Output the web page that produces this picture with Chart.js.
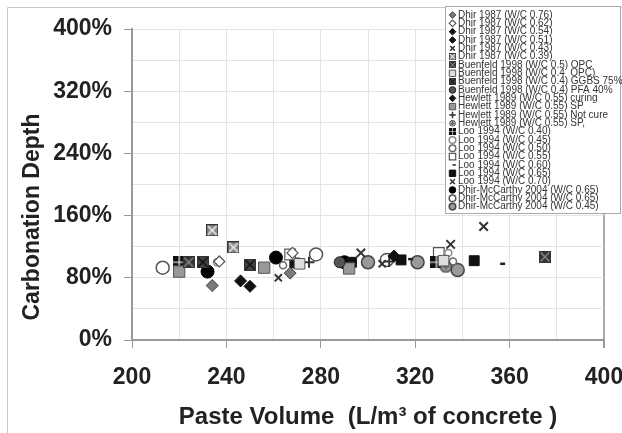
<!DOCTYPE html>
<html>
<head>
<meta charset="utf-8">
<script src="https://cdn.jsdelivr.net/npm/chart.js@4.4.0/dist/chart.umd.min.js"></script>
<style>
  html, body { margin: 0; padding: 0; background: #fff; }
  canvas { display: block; }
</style>
</head>
<body>
<canvas id="myChart" width="622" height="433"></canvas>
<script>
// series labels, paste volume (L/m3) and carbonation depth (%) per series
const seriesNames = [
  'Dhir 1987 (W/C 0.76)',
  'Dhir 1987 (W/C 0.62)',
  'Dhir 1987 (W/C 0.54)',
  'Dhir 1987 (W/C 0.51)',
  'Dhir 1987 (W/C 0.43)',
  'Dhir 1987 (W/C 0.39)',
  'Buenfeld 1998 (W/C 0.5) OPC',
  'Buenfeld 1998 (W/C 0.4  OPC)',
  'Buenfeld 1998 (W/C 0.4) GGBS 75%',
  'Buenfeld 1998 (W/C 0.4) PFA 40%',
  'Hewlett 1989 (W/C 0.55) curing',
  'Hewlett 1989 (W/C 0.55) SP',
  'Hewlett 1989 (W/C 0.55) Not cure',
  'Hewlett 1989 (W/C 0.55) SP,',
  'Loo 1994 (W/C 0.40)',
  'Loo 1994 (W/C 0.45)',
  'Loo 1994 (W/C 0.50)',
  'Loo 1994 (W/C 0.55)',
  'Loo 1994 (W/C 0.60)',
  'Loo 1994 (W/C 0.65)',
  'Loo 1994 (W/C 0.70)',
  'Dhir-McCarthy 2004 (W/C 0.65)',
  'Dhir-McCarthy 2004 (W/C 0.65)',
  'Dhir-McCarthy 2004 (W/C 0.45)'
];

const pasteVolume = [
  [234, 267], [237, 268], [246], [250], [262, 306], [234, 243],
  [224, 375], [271, 332], [230, 250], [288],
  [311], [220, 256, 292], [275, 309], [333],
  [220, 329], [236, 334], [264, 336], [267, 330], [317, 356],
  [269, 293, 314, 345], [297, 335, 349],
  [232, 261, 290], [213, 278, 308], [300, 321, 338]
];

const carbonationDepth = [
  [70, 86], [101, 112], [76], [69], [80, 98], [141, 119],
  [100, 107], [98, 102], [100, 97], [100],
  [108], [88, 93, 92], [100, 101], [94],
  [100, 100], [100, 112], [96, 101], [110, 112], [104, 98],
  [99, 100, 103, 102], [112, 123, 146],
  [88, 106, 100], [93, 110, 103], [100, 100, 90]
];

const xTicks = [200, 240, 280, 320, 360, 400];
const yTicks = [0, 80, 160, 240, 320, 400];

// little canvas markers for the patterned symbols
function patternMark(kind, fill, line, size) {
  const c = document.createElement('canvas');
  c.width = c.height = size;
  const g = c.getContext('2d');
  g.fillStyle = fill;
  g.strokeStyle = line;
  if (kind === 'hourglass') {
    g.fillRect(0, 0, size, size);
    g.lineWidth = 1.5;
    g.beginPath();
    g.moveTo(1.5, 1.5); g.lineTo(size - 1.5, size - 1.5);
    g.moveTo(size - 1.5, 1.5); g.lineTo(1.5, size - 1.5);
    g.stroke();
    g.strokeStyle = '#333';
    g.lineWidth = 1;
    g.strokeRect(0.5, 0.5, size - 1, size - 1);
  } else if (kind === 'grid') {
    g.fillRect(0, 0, size, size);
    g.lineWidth = 1.2;
    g.beginPath();
    g.moveTo(size / 2, 0); g.lineTo(size / 2, size);
    g.moveTo(0, size / 2); g.lineTo(size, size / 2);
    g.stroke();
  } else if (kind === 'starCircle') {
    g.beginPath();
    g.arc(size / 2, size / 2, size / 2 - 1, 0, Math.PI * 2);
    g.fill();
    g.lineWidth = 1.2;
    g.strokeStyle = '#333';
    g.stroke();
    g.strokeStyle = line;
    g.beginPath();
    g.moveTo(size / 2, 3); g.lineTo(size / 2, size - 3);
    g.moveTo(3, size / 2); g.lineTo(size - 3, size / 2);
    g.stroke();
  }
  return c;
}

const markerStyles = [
  { style: 'rectRot', r: 6, bg: '#7a7a7a', bd: '#444', bw: 1 },
  { style: 'rectRot', r: 5.5, bg: '#fff', bd: '#555', bw: 1.2 },
  { style: 'rectRot', r: 6, bg: '#111', bd: '#111', bw: 1 },
  { style: 'rectRot', r: 6, bg: '#111', bd: '#111', bw: 1 },
  { style: 'crossRot', r: 5, bg: '#333', bd: '#333', bw: 2 },
  { style: patternMark('hourglass', '#8a8a8a', '#eee', 12), r: 6, bg: '#888', bd: '#333', bw: 1 },
  { style: patternMark('hourglass', '#333', '#888', 12), r: 6, bg: '#333', bd: '#111', bw: 1 },
  { style: 'rect', r: 7.5, bg: '#ddd', bd: '#555', bw: 1 },
  { style: patternMark('hourglass', '#444', '#111', 12), r: 6, bg: '#444', bd: '#111', bw: 1 },
  { style: 'circle', r: 5.5, bg: '#555', bd: '#222', bw: 1 },
  { style: 'rectRot', r: 6, bg: '#111', bd: '#111', bw: 1 },
  { style: 'rect', r: 8, bg: '#999', bd: '#555', bw: 1 },
  { style: 'cross', r: 5.5, bg: '#333', bd: '#333', bw: 2 },
  { style: patternMark('starCircle', '#999', '#555', 13), r: 6, bg: '#999', bd: '#333', bw: 1 },
  { style: patternMark('grid', '#111', '#fff', 12), r: 6, bg: '#111', bd: '#111', bw: 1 },
  { style: 'circle', r: 3.5, bg: '#fff', bd: '#888', bw: 1.5 },
  { style: 'circle', r: 3.5, bg: '#fff', bd: '#666', bw: 1.5 },
  { style: 'rect', r: 7.5, bg: '#fff', bd: '#555', bw: 1.2 },
  { style: 'dash', r: 5, bg: '#222', bd: '#222', bw: 2.5 },
  { style: 'rect', r: 7, bg: '#111', bd: '#111', bw: 1 },
  { style: 'crossRot', r: 6, bg: '#333', bd: '#333', bw: 2 },
  { style: 'circle', r: 6.5, bg: '#000', bd: '#000', bw: 1 },
  { style: 'circle', r: 6.5, bg: '#fff', bd: '#555', bw: 1.5 },
  { style: 'circle', r: 6.5, bg: '#999', bd: '#444', bw: 1.5 }
];

const datasets = seriesNames.map((name, i) => ({
  label: name,
  data: pasteVolume[i].map((x, j) => ({ x: x, y: carbonationDepth[i][j] })),
  pointStyle: markerStyles[i].style,
  pointRadius: markerStyles[i].r,
  pointBackgroundColor: markerStyles[i].bg,
  pointBorderColor: markerStyles[i].bd,
  pointBorderWidth: markerStyles[i].bw,
  showLine: false
}));

// thin frame round the whole figure
const framePlugin = {
  id: 'frame',
  beforeDraw(chart) {
    const ctx = chart.ctx;
    ctx.save();
    ctx.fillStyle = '#fff';
    ctx.fillRect(0, 0, chart.width, chart.height);
    ctx.strokeStyle = '#c8c8c8';
    ctx.lineWidth = 1;
    ctx.beginPath();
    ctx.moveTo(7.5, chart.height);
    ctx.lineTo(7.5, 7.5);
    ctx.lineTo(chart.width, 7.5);
    ctx.stroke();
    ctx.restore();
  }
};

// y axis title and the boxed legend over the top right corner
const sidePlugin = {
  id: 'side',
  afterDraw(chart) {
    const ctx = chart.ctx;
    ctx.save();
    ctx.translate(33, 217);
    ctx.rotate(-Math.PI / 2);
    ctx.font = 'bold 23px "Liberation Sans", Arial, sans-serif';
    ctx.fillStyle = '#222';
    ctx.textAlign = 'center';
    ctx.textBaseline = 'middle';
    ctx.fillText('Carbonation Depth', 0, 0);
    ctx.restore();

    ctx.save();
    ctx.fillStyle = '#fff';
    ctx.fillRect(445, 6, 175, 208);
    ctx.strokeStyle = '#aaa';
    ctx.lineWidth = 1;
    ctx.strokeRect(445.5, 6.5, 175, 207);
    ctx.font = '10px "Liberation Sans", Arial, sans-serif';
    ctx.textBaseline = 'middle';
    ctx.textAlign = 'left';
    chart.data.datasets.forEach((ds, i) => {
      const y = 15 + i * 8.33;
      const m = markerStyles[i];
      if (typeof m.style !== 'string') {
        ctx.drawImage(m.style, 449, y - 3.5, 7, 7);
      } else {
        ctx.fillStyle = m.bg;
        ctx.strokeStyle = m.bd;
        ctx.lineWidth = Math.min(m.bw, 1.5);
        Chart.helpers.drawPoint(ctx, { pointStyle: m.style, radius: m.style === 'rect' ? 4.5 : 3.3, rotation: 0, borderWidth: ctx.lineWidth }, 452.5, y);
      }
      ctx.fillStyle = '#333';
      ctx.fillText(ds.label, 458, y);
    });
    ctx.restore();
  }
};

const tickFont = { family: '"Liberation Sans", Arial, sans-serif', size: 23, weight: 'bold' };
const titleFont = { family: '"Liberation Sans", Arial, sans-serif', size: 24, weight: 'bold' };

const ctx = document.querySelector('#myChart').getContext('2d');
const myChart = new Chart(ctx, {
  type: 'scatter',
  data: { datasets: datasets },
  plugins: [framePlugin, sidePlugin],
  options: {
    responsive: false,
    animation: false,
    devicePixelRatio: 1,
    layout: { padding: { left: 8, top: 29, right: 18, bottom: 0 } },
    plugins: {
      legend: { display: false },
      tooltip: { enabled: false }
    },
    scales: {
      x: {
        type: 'linear',
        min: 200,
        max: 400,
        ticks: {
          stepSize: 20,
          autoSkip: false,
          maxRotation: 0,
          padding: 16,
          color: '#222',
          font: tickFont,
          callback: (v) => xTicks.includes(v) ? String(v) : ''
        },
        grid: {
          color: (c) => c.tick && c.tick.value === 400 ? '#aaa' : '#e4e4e4',
          lineWidth: (c) => c.tick && c.tick.value === 400 ? 2 : 1,
          tickColor: (c) => c.tick && xTicks.includes(c.tick.value) ? '#999' : 'rgba(0,0,0,0)',
          tickLength: 8
        },
        border: { display: true, color: '#999', width: 2 },
        title: {
          display: true,
          text: 'Paste Volume  (L/m\u00b3 of concrete )',
          color: '#222',
          font: titleFont,
          padding: { top: 0, bottom: 1 }
        },
        afterFit: (s) => { s.height = 93; s.paddingLeft = 0; s.paddingRight = 0; }
      },
      y: {
        min: 0,
        max: 400,
        ticks: {
          stepSize: 40,
          padding: 12,
          color: '#222',
          font: tickFont,
          callback: (v) => yTicks.includes(v) ? v + '%' : ''
        },
        grid: {
          color: '#e4e4e4',
          tickColor: (c) => c.tick && yTicks.includes(c.tick.value) ? '#999' : 'rgba(0,0,0,0)',
          tickLength: 8
        },
        border: { display: true, color: '#999', width: 2 },
        afterFit: (s) => { s.width = 124; }
      }
    }
  }
});
</script>
</body>
</html>
